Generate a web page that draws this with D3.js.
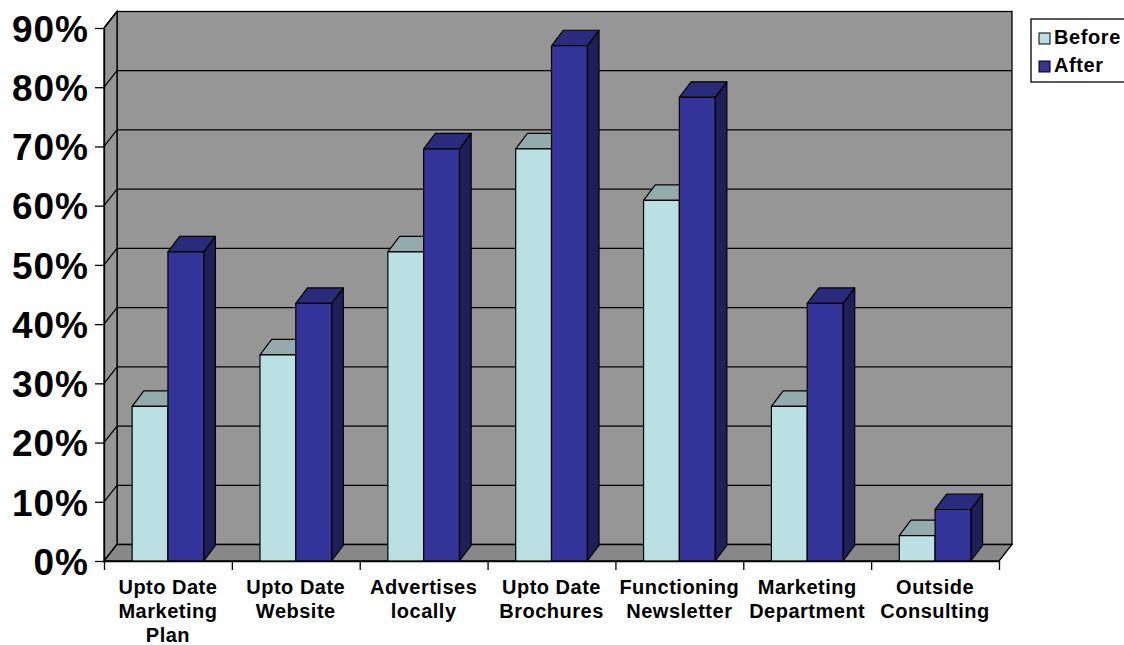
<!DOCTYPE html>
<html>
<head>
<meta charset="utf-8">
<script src="https://cdn.jsdelivr.net/npm/d3@7"></script>
<style>
  html, body { margin: 0; padding: 0; background: #fff; }
  svg { display: block; }
  text { font-family: "Liberation Sans", Arial, sans-serif; font-weight: bold; fill: #000; }
</style>
</head>
<body>
<svg id="chart" width="1124" height="645"></svg>
<script>
// ---- data ----
const categories = [
  ["Upto Date", "Marketing", "Plan"],
  ["Upto Date", "Website"],
  ["Advertises", "locally"],
  ["Upto Date", "Brochures"],
  ["Functioning", "Newsletter"],
  ["Marketing", "Department"],
  ["Outside", "Consulting"]
];
const seriesNames = ["Before", "After"];
const beforeValues = [26.1, 34.8, 52.2, 69.6, 60.9, 26.1, 4.3];
const afterValues  = [52.2, 43.5, 69.6, 87.0, 78.3, 43.5, 8.7];
const yTicks = [0, 10, 20, 30, 40, 50, 60, 70, 80, 90];

// ---- layout ----
const svg = d3.select("#chart");
const pLeft = 104, pRight = 999, pBottom = 561, pTop = 28;
const DX = 13, DY = -16.5;      // wall depth
const BDX = 11.7, BDY = -15.5;  // bar depth

const y = d3.scaleLinear().domain([0, 90]).range([pBottom, pTop]);
const idx = d3.range(categories.length);
const x0 = d3.scaleBand().domain(idx).range([pLeft, pRight]).padding(0);
const x1 = d3.scaleBand().domain(seriesNames)
  .range([x0.bandwidth() * 0.22, x0.bandwidth() * 0.78]).padding(0);

const wallColor = "#969696", floorColor = "#888888";
const colors = {
  Before: { front: "#BBE0E3", top: "#93ABAD", side: "#6F8587" },
  After:  { front: "#333399", top: "#2B2B7B", side: "#1F1F57" }
};

// back wall
svg.append("rect")
  .attr("x", pLeft + DX).attr("y", pTop + DY)
  .attr("width", pRight - pLeft).attr("height", pBottom - pTop)
  .attr("fill", wallColor).attr("stroke", "#000").attr("stroke-width", 1.3);

// left side wall
svg.append("polygon")
  .attr("points", [[pLeft, pBottom], [pLeft, pTop], [pLeft + DX, pTop + DY], [pLeft + DX, pBottom + DY]].join(" "))
  .attr("fill", wallColor).attr("stroke", "#000").attr("stroke-width", 1.3);

// gridlines: back wall + left wall diagonals
const grid = svg.append("g").attr("stroke", "#000").attr("stroke-width", 1.3);
yTicks.forEach(v => {
  const yy = y(v);
  if (v > 0 && v < 90) {
    grid.append("line").attr("x1", pLeft + DX).attr("x2", pRight + DX)
      .attr("y1", yy + DY).attr("y2", yy + DY);
  }
  grid.append("line").attr("x1", pLeft).attr("y1", yy)
    .attr("x2", pLeft + DX).attr("y2", yy + DY);
});

// floor
svg.append("polygon")
  .attr("points", [[pLeft, pBottom], [pRight, pBottom], [pRight + DX, pBottom + DY], [pLeft + DX, pBottom + DY]].join(" "))
  .attr("fill", floorColor).attr("stroke", "#000").attr("stroke-width", 1.3);

// bars
const series = [
  { name: "Before", values: beforeValues },
  { name: "After", values: afterValues }
];
const barsG = svg.append("g").attr("stroke", "#000").attr("stroke-width", 1.2).attr("stroke-linejoin", "round");
idx.forEach(i => {
  series.forEach(s => {
    const v = s.values[i];
    const xa = x0(i) + x1(s.name);
    const w = x1.bandwidth();
    const yv = y(v), yb = y(0);
    const c = colors[s.name];
    barsG.append("polygon")
      .attr("points", [[xa + w, yv], [xa + w + BDX, yv + BDY], [xa + w + BDX, yb + BDY], [xa + w, yb]].join(" "))
      .attr("fill", c.side);
    barsG.append("polygon")
      .attr("points", [[xa, yv], [xa + BDX, yv + BDY], [xa + w + BDX, yv + BDY], [xa + w, yv]].join(" "))
      .attr("fill", c.top);
    barsG.append("rect")
      .attr("x", xa).attr("y", yv).attr("width", w).attr("height", yb - yv)
      .attr("fill", c.front);
  });
});

// y axis
const yAxis = d3.axisLeft(y).tickValues(yTicks).tickSize(9).tickSizeOuter(0)
  .tickPadding(6).tickFormat(d => d + "%");
const yg = svg.append("g").attr("transform", `translate(${pLeft},0)`).call(yAxis);
yg.select(".domain").attr("stroke", "#000").attr("stroke-width", 1.3);
yg.selectAll(".tick line").attr("stroke", "#000").attr("stroke-width", 1.3);
yg.selectAll(".tick text")
  .style("font-family", '"Liberation Sans", Arial, sans-serif')
  .style("font-weight", "bold").style("font-size", "37px")
  .style("letter-spacing", "1px").attr("fill", "#000").attr("dy", "0.36em");

// x axis (ticks at category boundaries)
const xb = d3.scaleLinear().domain([0, categories.length]).range([pLeft, pRight]);
const xAxis = d3.axisBottom(xb).tickValues(d3.range(categories.length + 1))
  .tickSize(9).tickSizeOuter(0).tickFormat("");
const xg = svg.append("g").attr("transform", `translate(0,${pBottom})`).call(xAxis);
xg.select(".domain").attr("stroke", "#000").attr("stroke-width", 1.3);
xg.selectAll(".tick line").attr("stroke", "#000").attr("stroke-width", 1.3);

// category labels
const labG = svg.append("g");
idx.forEach(i => {
  const t = labG.append("text")
    .attr("x", x0(i) + x0.bandwidth() / 2).attr("y", 594)
    .attr("text-anchor", "middle")
    .style("font-size", "20px").style("letter-spacing", "0.5px");
  categories[i].forEach((line, k) => {
    t.append("tspan").attr("x", x0(i) + x0.bandwidth() / 2)
      .attr("dy", k === 0 ? 0 : 24).text(line);
  });
});

// legend
const lg = svg.append("g");
lg.append("rect").attr("x", 1031).attr("y", 19).attr("width", 110).attr("height", 63)
  .attr("fill", "#fff").attr("stroke", "#000").attr("stroke-width", 1.3);
seriesNames.forEach((n, k) => {
  lg.append("rect").attr("x", 1039).attr("y", 33 + k * 28).attr("width", 11).attr("height", 11)
    .attr("fill", colors[n].front).attr("stroke", "#000").attr("stroke-width", 1);
  lg.append("text").attr("x", 1054).attr("y", 44 + k * 28)
    .style("font-size", "20px").style("letter-spacing", "0.6px").text(n);
});
</script>
</body>
</html>
